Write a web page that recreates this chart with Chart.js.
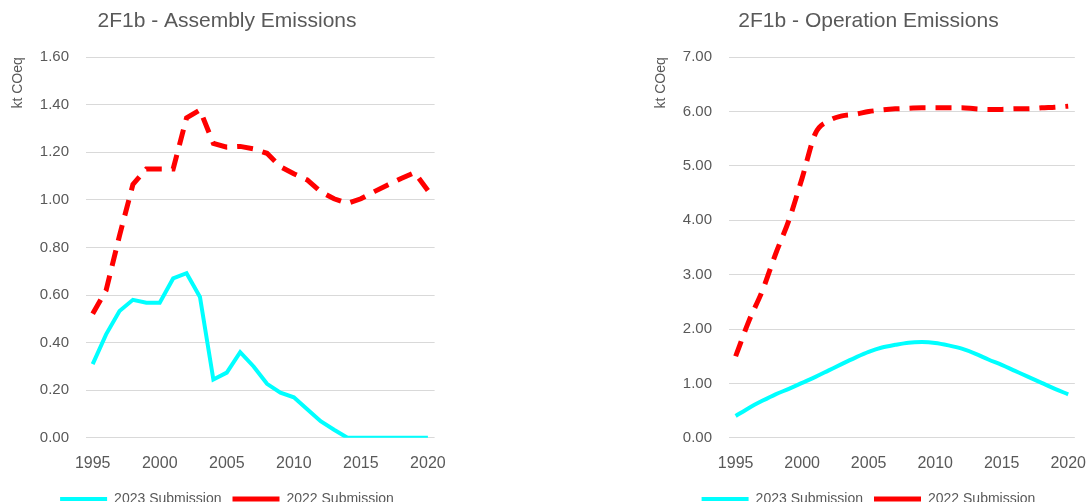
<!DOCTYPE html>
<html>
<head>
<meta charset="utf-8">
<script src="https://cdn.jsdelivr.net/npm/chart.js@4"></script>
<style>
  html, body { margin: 0; padding: 0; background: #fff; overflow: hidden; width: 1088px; height: 502px; }
  .box { position: absolute; top: 0; height: 516px; }
  #left { left: 0; width: 454px; }
  #right { left: 643px; width: 451px; }
</style>
</head>
<body>
<div class="box" id="left"><canvas id="assembly"></canvas></div>
<div class="box" id="right"><canvas id="operation"></canvas></div>
<script>
years = [1995, 1996, 1997, 1998, 1999, 2000, 2001, 2002, 2003, 2004, 2005, 2006, 2007,
         2008, 2009, 2010, 2011, 2012, 2013, 2014, 2015, 2016, 2017, 2018, 2019, 2020];

// 2F1b - Assembly
assembly2023 = [0.31, 0.435, 0.533, 0.58, 0.568, 0.568, 0.67, 0.692, 0.592, 0.245, 0.274, 0.36, 0.30,
                0.227, 0.19, 0.17, 0.12, 0.07, 0.034, 0.0, 0.0, 0.0, 0.0, 0.0, 0.0, 0.0];
assembly2022 = [0.522, 0.62, 0.85, 1.065, 1.13, 1.13, 1.13, 1.345, 1.378, 1.238, 1.222, 1.225, 1.215,
                1.196, 1.14, 1.11, 1.084, 1.035, 1.005, 0.985, 1.005, 1.035, 1.063, 1.09, 1.115, 1.04];

// 2F1b - Operation
operation2023 = [0.40, 0.55, 0.68, 0.80, 0.90, 1.01, 1.12, 1.24, 1.36, 1.475, 1.58, 1.66, 1.71,
                 1.75, 1.76, 1.745, 1.70, 1.64, 1.55, 1.44, 1.34, 1.23, 1.12, 1.01, 0.90, 0.80];
operation2022 = [1.5, 2.15, 2.7, 3.38, 4.0, 4.78, 5.6, 5.83, 5.92, 5.95, 6.0, 6.03, 6.05,
                 6.06, 6.07, 6.07, 6.07, 6.07, 6.05, 6.04, 6.04, 6.05, 6.05, 6.07, 6.08, 6.1];

seriesNames = ['2023 Submission', '2022 Submission'];

var grey = '#595959';
var fontFamily = '"Liberation Sans", Arial, sans-serif';

function makeChart(id, title, newData, oldData, yMax, yStep, smooth, padLeft, padRight) {
  var ctx = document.getElementById(id).getContext('2d');
  return new Chart(ctx, {
    type: 'line',
    data: {
      labels: years,
      datasets: [{
        label: seriesNames[0],
        data: newData,
        borderColor: '#00ffff',
        backgroundColor: '#00ffff',
        borderWidth: 4,
        pointRadius: 0,
        cubicInterpolationMode: smooth ? 'monotone' : 'default',
        tension: 0
      }, {
        label: seriesNames[1],
        data: oldData,
        borderColor: '#ff0000',
        backgroundColor: '#ff0000',
        borderWidth: 5,
        borderDash: [16, 10],
        pointRadius: 0,
        cubicInterpolationMode: smooth ? 'monotone' : 'default',
        tension: 0
      }]
    },
    options: {
      responsive: true,
      maintainAspectRatio: false,
      animation: false,
      layout: { padding: { left: padLeft, right: padRight, top: 0, bottom: 0 } },
      plugins: {
        title: {
          display: true,
          text: title,
          color: grey,
          font: { family: fontFamily, size: 21, weight: 'normal' },
          padding: { top: 9, bottom: 23 }
        },
        legend: {
          position: 'bottom',
          labels: {
            color: grey,
            font: { family: fontFamily, size: 14 },
            usePointStyle: true,
            pointStyle: 'line',
            pointStyleWidth: 47,
            padding: 11
          }
        },
        tooltip: { enabled: false }
      },
      scales: {
        x: {
          offset: true,
          grid: { display: false },
          border: { display: false },
          ticks: {
            autoSkip: false,
            maxRotation: 0,
            color: grey,
            padding: 8,
            font: { family: fontFamily, size: 16 },
            callback: function (value, index) {
              var yr = years[index];
              return yr % 5 === 0 ? String(yr) : '';
            }
          }
        },
        y: {
          min: 0,
          max: yMax,
          border: { display: false },
          grid: { color: '#d9d9d9', drawTicks: false },
          title: {
            display: true,
            text: 'kt COeq',
            align: 'end',
            color: grey,
            font: { family: fontFamily, size: 14 },
            padding: { top: 10 - padLeft, bottom: -4 }
          },
          ticks: {
            stepSize: yStep,
            color: grey,
            padding: 17,
            font: { family: fontFamily, size: 15 },
            callback: function (value) { return value.toFixed(2); }
          }
        }
      }
    }
  });
}

var assemblyChart = makeChart('assembly', '2F1b - Assembly Emissions', assembly2023, assembly2022, 1.6, 0.2, false, 16, 16);
var operationChart = makeChart('operation', '2F1b - Operation Emissions', operation2023, operation2022, 7, 1, true, 0, 0);
</script>
</body>
</html>
